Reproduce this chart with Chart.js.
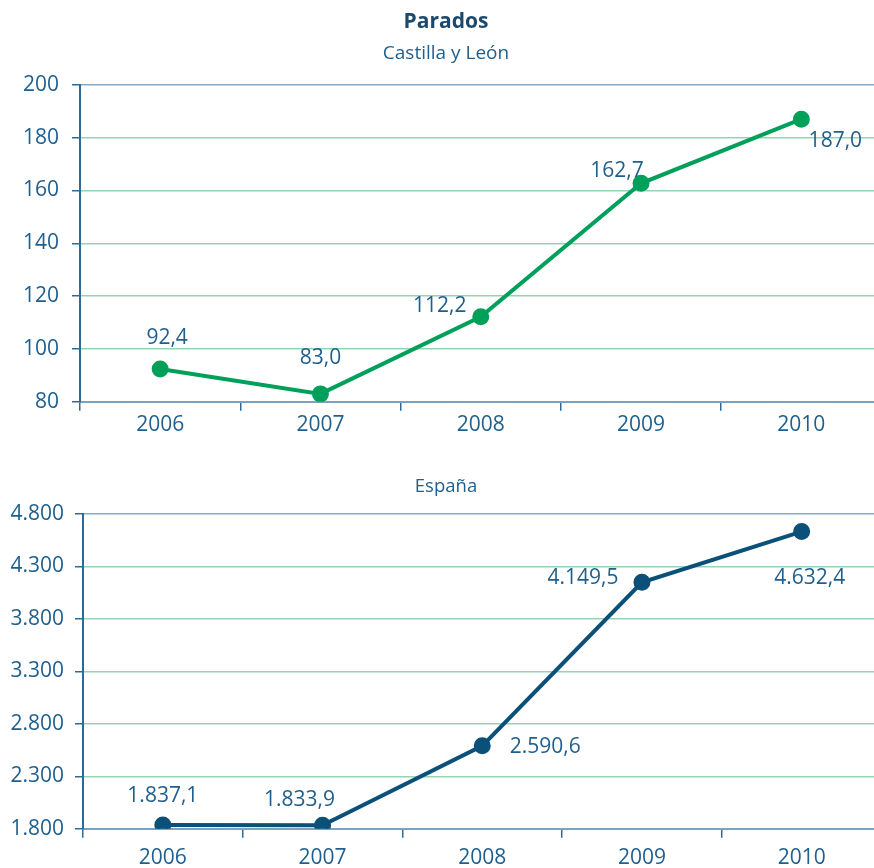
<!DOCTYPE html>
<html>
<head>
<meta charset="utf-8">
<script src="https://cdn.jsdelivr.net/npm/chart.js@4/dist/chart.umd.min.js"></script>
<style>
  html, body { margin: 0; padding: 0; background: #fff; overflow: hidden; }
  .wrap { position: absolute; left: 0; width: 892px; }
  #top { top: 0; height: 440px; }
  #bottom { top: 460px; height: 419px; }
</style>
</head>
<body>
<div class="wrap" id="top"><canvas id="cyl"></canvas></div>
<div class="wrap" id="bottom"><canvas id="esp"></canvas></div>
<script>
const YEARS = ["2006", "2007", "2008", "2009", "2010"];
const PARADOS_CYL = [92.4, 83.0, 112.2, 162.7, 187.0];
const PARADOS_ESP = [1837.1, 1833.9, 2590.6, 4149.5, 4632.4];

// where each value label sits relative to its point
const OFFSETS_CYL = [[7, -31], [0, -36], [-41, -11], [-24, -12], [34, 22]];
const OFFSETS_ESP = [[0, -29], [-23, -25], [63, 1], [-59, -4], [8, 46]];

const FONT = "'Open Sans', 'DejaVu Sans', sans-serif";
const TEXT = "#1f5f8e";
const AXIS = "#2f6a96";
const GRID_BLUE = "#86abc7";
const GRID_GREEN = "#93d4b3";

// 4800 -> "4.800", 1837.1 -> "1.837,1"
function fmt(v, dec) {
    const parts = v.toFixed(dec).split(".");
    parts[0] = parts[0].replace(/\B(?=(\d{3})+(?!\d))/g, ".");
    return parts.join(",");
}

const valueLabels = {
    id: "valueLabels",
    afterDatasetsDraw(chart, args, opts) {
        const ctx = chart.ctx;
        const meta = chart.getDatasetMeta(0);
        ctx.save();
        ctx.font = "21px " + FONT;
        ctx.fillStyle = TEXT;
        ctx.textAlign = "center";
        ctx.textBaseline = "middle";
        meta.data.forEach((pt, i) => {
            const v = chart.data.datasets[0].data[i];
            const [dx, dy] = opts.offsets[i];
            ctx.fillText(fmt(v, 1), pt.x + dx, pt.y + dy);
        });
        ctx.restore();
    }
};

function makeChart(el, cfg) {
    return new Chart(el, {
        type: "line",
        data: {
            labels: YEARS,
            datasets: [{
                data: cfg.data,
                borderColor: cfg.color,
                backgroundColor: cfg.color,
                borderWidth: 4,
                pointRadius: 6.5,
                pointHoverRadius: 6.5,
                tension: 0,
            }],
        },
        plugins: [valueLabels],
        options: {
            responsive: true,
            maintainAspectRatio: false,
            animation: false,
            events: [],
            layout: {padding: {left: 0, right: 0, top: 0, bottom: 0}},
            plugins: {
                legend: {display: false},
                tooltip: {enabled: false},
                title: cfg.title,
                subtitle: cfg.subtitle,
                valueLabels: {offsets: cfg.offsets},
            },
            scales: {
                x: {
                    offset: true,
                    grid: {
                        offset: true,
                        drawOnChartArea: false,
                        drawTicks: true,
                        tickLength: 9,
                        color: AXIS,
                        lineWidth: 1.5,
                    },
                    border: {display: true, color: "#7aa3c2", width: 2},
                    ticks: {color: TEXT, font: {family: FONT, size: 21}, padding: cfg.xPad},
                },
                y: {
                    min: cfg.min,
                    max: cfg.max,
                    afterFit: (scale) => { scale.width = cfg.axisWidth; },
                    grid: {
                        tickLength: 8,
                        color: (c) => (c.index === 0 || c.tick.value === cfg.max) ? GRID_BLUE : GRID_GREEN,
                        tickColor: AXIS,
                        lineWidth: 1.5,
                    },
                    border: {display: true, color: AXIS, width: 2},
                    ticks: {
                        stepSize: cfg.step,
                        color: TEXT,
                        font: {family: FONT, size: 21},
                        padding: cfg.yPad,
                        callback: (v) => fmt(v, 0),
                    },
                },
            },
        },
    });
}

makeChart(document.getElementById("cyl"), {
    data: PARADOS_CYL,
    color: "#00a05a",
    min: 80, max: 200, step: 20,
    axisWidth: 80, xPad: 2, yPad: 13,
    offsets: OFFSETS_CYL,
    title: {
        display: true,
        text: "Parados",
        color: "#1b4a6e",
        font: {family: FONT, size: 21, weight: "bold"},
        padding: {top: 9.5, bottom: 7.5},
    },
    subtitle: {
        display: true,
        text: "Castilla y León",
        color: "#1f5f8e",
        font: {family: FONT, size: 19},
        padding: {top: 0, bottom: 19.8},
    },
});

makeChart(document.getElementById("esp"), {
    data: PARADOS_ESP,
    color: "#0b5079",
    min: 1800, max: 4800, step: 500,
    axisWidth: 83, xPad: 8, yPad: 11,
    offsets: OFFSETS_ESP,
    title: {
        display: true,
        text: "España",
        color: "#1f5f8e",
        font: {family: FONT, size: 18.5, weight: "normal"},
        padding: {top: 16, bottom: 15.8},
    },
    subtitle: {display: false},
});
</script>
</body>
</html>
